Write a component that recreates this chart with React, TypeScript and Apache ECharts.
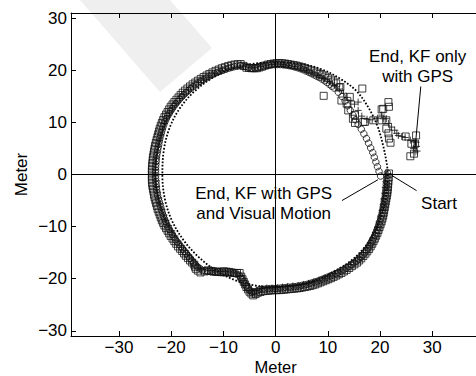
import React, { useEffect, useRef } from "react";
import * as echarts from "echarts";

const xTicks = [-30, -20, -10, 0, 10, 20, 30];
const yTicks = [-30, -20, -10, 0, 10, 20, 30];
const xRange = [-39.2, 39.2];
const yRange = [-31, 31];

// dotted reference trajectory
const referencePath = [
  [21.5, 0], [21.2, -4], [20.4, -7.5], [19, -11], [17, -14], [14.5, -16.5], [11, -18.7], [7.5, -20.3],
  [3.5, -21.3], [0, -21.6], [-4, -21.3], [-8, -20.2], [-11.5, -18.4], [-14.8, -15.8], [-17.5, -12.8],
  [-19.8, -9], [-21.2, -4.8], [-21.7, 0], [-21.4, 4.8], [-20.3, 9], [-18.3, 12.8], [-15.5, 16],
  [-12, 18.6], [-8, 20.4], [-4, 21.3], [0, 21.5], [5, 21.2], [9, 20.1], [12.5, 18.3], [15.5, 16],
  [17.8, 12.8], [19.5, 9.3], [20.6, 5.5], [21.3, 2], [21.5, 0],
];

// KF with GPS and visual motion (circles)
const kfVisual = [
  [21.4, 0.3], [21.3, -0.8], [21.2, -1.9], [21.1, -3.0], [21.0, -4.1], [20.8, -5.2], [20.6, -6.3], [20.4, -7.4],
  [20.1, -8.5], [19.8, -9.6], [19.4, -10.7], [19.0, -11.7], [18.5, -12.7], [18.0, -13.7], [17.4, -14.6],
  [16.7, -15.5], [15.9, -16.3], [15.0, -17.0], [14.0, -17.7], [13.0, -18.3], [12.0, -18.8], [11.0, -19.3],
  [10.0, -19.7], [9.0, -20.1], [8.0, -20.5], [7.0, -20.8], [6.0, -21.1], [5.0, -21.3], [4.0, -21.5],
  [3.0, -21.6], [2.0, -21.7], [1.0, -21.8], [0, -21.9], [-1.0, -21.9], [-2.0, -22.0], [-3.0, -22.1],
  [-3.9, -22.5], [-4.6, -22.6], [-5.3, -21.9], [-5.9, -21.0], [-6.4, -20.1], [-7.0, -19.3], [-8.0, -19.0],
  [-9.0, -18.9], [-10.0, -18.9], [-11.0, -18.8], [-12.0, -18.7], [-13.0, -18.6], [-14.0, -18.4],
  [-14.9, -17.8], [-15.7, -17.0], [-16.4, -16.1], [-17.1, -15.2], [-17.8, -14.3], [-18.5, -13.4],
  [-19.2, -12.5], [-19.8, -11.5], [-20.4, -10.5], [-20.9, -9.5], [-21.3, -8.5], [-21.7, -7.4],
  [-22.0, -6.3], [-22.3, -5.2], [-22.6, -4.1], [-22.8, -3.0], [-22.9, -1.9], [-23.0, -0.8], [-23.0, 0.3],
  [-23.0, 1.4], [-22.9, 2.5], [-22.8, 3.6], [-22.6, 4.7], [-22.4, 5.8], [-22.2, 6.9], [-21.9, 8.0],
  [-21.6, 9.1], [-21.2, 10.2], [-20.7, 11.2], [-20.1, 12.2], [-19.5, 13.1], [-18.8, 14.0], [-18.0, 14.9],
  [-17.2, 15.7], [-16.3, 16.5], [-15.4, 17.2], [-14.4, 17.9], [-13.4, 18.5], [-12.3, 19.1], [-11.2, 19.6],
  [-10.1, 20.0], [-9.0, 20.4], [-7.9, 20.7], [-6.8, 20.9], [-5.7, 20.7], [-4.6, 20.4], [-3.5, 20.5],
  [-2.4, 20.8], [-1.3, 21.0], [-0.2, 21.1], [0.9, 21.1], [2.0, 21.0], [3.1, 20.8], [4.2, 20.5], [5.3, 20.1],
  [6.4, 19.6], [7.4, 19.1], [8.4, 18.6], [9.4, 18.0], [10.3, 17.3], [11.2, 16.6], [12.0, 15.8], [12.7, 15.0],
  [13.3, 14.1], [13.8, 13.2], [14.3, 12.3], [14.8, 11.4], [15.3, 10.5], [15.8, 9.6], [16.4, 8.7],
  [16.9, 7.8], [17.4, 6.9], [17.8, 6.0], [18.2, 5.1], [18.6, 4.2], [18.9, 3.3], [19.2, 2.4], [19.5, 1.5],
  [19.8, 0.6], [20.1, -0.3],
];
// further circles read along the dense part of the ring
const kfVisualRing = [
  [21.35, -0.25], [21.25, -1.35], [21.15, -2.45], [21.05, -3.55], [20.9, -4.65], [20.7, -5.75], [20.5, -6.85],
  [20.25, -7.95], [19.95, -9.05], [19.6, -10.15], [19.2, -11.2], [18.75, -12.2], [18.25, -13.2], [17.7, -14.15],
  [17.05, -15.05], [16.3, -15.9], [15.45, -16.65], [14.5, -17.35], [13.5, -18.0], [12.5, -18.55], [11.5, -19.05],
  [10.5, -19.5], [9.5, -19.9], [8.5, -20.3], [7.5, -20.65], [6.5, -20.95], [5.5, -21.2], [4.5, -21.4],
  [3.5, -21.55], [2.5, -21.65], [1.5, -21.75], [0.5, -21.85], [-0.5, -21.9], [-1.5, -21.95], [-2.5, -22.05],
  [-3.45, -22.3], [-4.25, -22.55], [-4.95, -22.25], [-5.6, -21.45], [-6.15, -20.55], [-6.7, -19.7], [-7.5, -19.15],
  [-8.5, -18.95], [-9.5, -18.9], [-10.5, -18.85], [-11.5, -18.75], [-12.5, -18.65], [-13.5, -18.5],
  [-14.45, -18.1], [-15.3, -17.4], [-16.05, -16.55], [-16.75, -15.65], [-17.45, -14.75], [-18.15, -13.85],
  [-18.85, -12.95], [-19.5, -12.0], [-20.1, -11.0], [-20.65, -10.0], [-21.1, -9.0], [-21.5, -7.95],
  [-21.85, -6.85], [-22.15, -5.75], [-22.45, -4.65], [-22.7, -3.55], [-22.85, -2.45], [-22.95, -1.35],
  [-23.0, -0.25], [-23.0, 0.85], [-22.95, 1.95], [-22.85, 3.05], [-22.7, 4.15], [-22.5, 5.25], [-22.3, 6.35],
  [-22.05, 7.45], [-21.75, 8.55], [-21.4, 9.65], [-20.95, 10.7], [-20.4, 11.7], [-19.8, 12.65], [-19.15, 13.55],
  [-18.4, 14.45], [-17.6, 15.3], [-16.75, 16.1], [-15.85, 16.85], [-14.9, 17.55], [-13.9, 18.2], [-12.85, 18.8],
  [-11.75, 19.35], [-10.65, 19.8], [-9.55, 20.2], [-8.45, 20.55], [-7.35, 20.8], [-6.25, 20.8], [-5.15, 20.55],
  [-4.05, 20.45], [-2.95, 20.65], [-1.85, 20.9], [-0.75, 21.05], [0.35, 21.1], [1.45, 21.05], [2.55, 20.9],
  [3.65, 20.65], [4.75, 20.3], [5.85, 19.85], [6.9, 19.35], [7.9, 18.85], [8.9, 18.3], [9.85, 17.65], [10.75, 16.95],
];

// GPS (squares)
const gpsRaw = [
  [21.7, 0.2], [21.6, -1.3], [21.5, -2.4], [21.4, -3.5], [21.2, -4.6], [21.0, -5.7], [20.8, -6.8], [20.6, -7.9],
  [20.3, -9.0], [19.9, -10.1], [19.5, -11.2], [19.0, -12.3], [18.5, -13.3], [17.9, -14.3], [17.2, -15.2],
  [16.4, -16.1], [15.6, -16.9], [14.6, -17.6], [13.6, -18.3], [12.6, -18.9], [11.6, -19.4], [10.6, -19.9],
  [9.6, -20.3], [8.6, -20.7], [7.6, -21.1], [6.6, -21.4], [5.6, -21.6], [4.6, -21.8], [3.6, -21.9],
  [2.6, -22.0], [1.6, -22.1], [0.6, -22.2], [-0.4, -22.2], [-1.4, -22.3], [-2.4, -22.4], [-3.4, -22.7],
  [-4.3, -23.2], [-5.0, -22.5], [-5.6, -21.6], [-6.1, -20.6], [-6.6, -19.6], [-6.9, -18.9], [-7.9, -18.9],
  [-8.9, -18.7], [-9.9, -18.6], [-10.9, -18.7], [-11.9, -18.6], [-12.9, -18.4], [-14.4, -18.8],
  [-15.3, -18.1], [-15.6, -17.3], [-16.4, -16.5], [-17.2, -15.6], [-17.9, -14.7], [-18.7, -13.8],
  [-19.4, -12.8], [-20.1, -11.8], [-20.7, -10.8], [-21.3, -9.8], [-21.8, -8.8], [-22.2, -7.7],
  [-22.6, -6.6], [-22.9, -5.5], [-23.2, -4.4], [-23.4, -3.3], [-23.6, -2.2], [-23.7, -1.1], [-23.7, 0],
  [-23.7, 1.1], [-23.6, 2.2], [-23.5, 3.3], [-23.3, 4.4], [-23.1, 5.5], [-22.8, 6.6], [-22.5, 7.7],
  [-22.2, 8.8], [-21.8, 9.9], [-21.3, 11.0], [-20.7, 12.0], [-20.1, 13.0], [-19.4, 13.9], [-18.6, 14.8],
  [-17.8, 15.7], [-16.9, 16.5], [-15.9, 17.3], [-14.9, 18.0], [-13.8, 18.7], [-12.7, 19.3], [-11.5, 19.9],
  [-10.3, 20.4], [-9.1, 20.8], [-7.9, 21.1], [-6.7, 21.2], [-5.6, 20.5], [-4.6, 20.4], [-3.6, 20.4],
  [-2.6, 20.7], [-1.5, 21.1], [-0.4, 21.3], [0.7, 21.4], [1.8, 21.3], [2.9, 21.1], [4.0, 20.9], [5.1, 20.6],
  [6.2, 20.2], [7.3, 19.8], [8.4, 19.3], [9.5, 18.8], [10.6, 18.2], [11.6, 17.5], [12.4, 16.8], [12.2, 16.7],
  [16.6, 16.5], [9.2, 15.1], [12.6, 14.2], [14.2, 14.9], [13.9, 12.3], [13.6, 13.6], [14.8, 10.7],
  [15.2, 11.4], [15.2, 9.9], [16.8, 10.1], [17.1, 10.1], [18.7, 10.4], [20.3, 12.5], [20.6, 12.6],
  [21.6, 13.9], [21.7, 13.0], [20.3, 10.4], [21.2, 10.4], [21.2, 8.8], [21.6, 7.9], [21.7, 6.9], [22.0, 6.1],
  [24.9, 7.3], [26.9, 7.5], [26.7, 5.9], [26.0, 5.9], [26.5, 4.0], [25.8, 3.5],
];
// further squares read along the dense part of the ring
const gpsRing = [
  [21.65, -0.55], [21.55, -1.85], [21.45, -2.95], [21.3, -4.05], [21.1, -5.15], [20.9, -6.25], [20.7, -7.35],
  [20.45, -8.45], [20.1, -9.55], [19.7, -10.65], [19.25, -11.75], [18.75, -12.8], [18.2, -13.8], [17.55, -14.75],
  [16.8, -15.65], [16.0, -16.5], [15.1, -17.25], [14.1, -17.95], [13.1, -18.6], [12.1, -19.15], [11.1, -19.65],
  [10.1, -20.1], [9.1, -20.5], [8.1, -20.9], [7.1, -21.25], [6.1, -21.5], [5.1, -21.7], [4.1, -21.85],
  [3.1, -21.95], [2.1, -22.05], [1.1, -22.15], [0.1, -22.2], [-0.9, -22.25], [-1.9, -22.35], [-2.9, -22.55],
  [-3.85, -22.95], [-4.65, -22.85], [-5.3, -22.05], [-5.85, -21.1], [-6.35, -20.1], [-7.4, -18.9], [-8.4, -18.8],
  [-9.4, -18.65], [-10.4, -18.65], [-11.4, -18.65], [-12.4, -18.5], [-13.6, -18.6], [-14.9, -18.45],
  [-15.45, -17.7], [-16.0, -16.9], [-16.8, -16.05], [-17.55, -15.15], [-18.3, -14.25], [-19.05, -13.3],
  [-19.75, -12.3], [-20.4, -11.3], [-21.0, -10.3], [-21.55, -9.3], [-22.0, -8.25], [-22.4, -7.15],
  [-22.75, -6.05], [-23.05, -4.95], [-23.3, -3.85], [-23.5, -2.75], [-23.65, -1.65], [-23.7, -0.55],
  [-23.7, 0.55], [-23.65, 1.65], [-23.55, 2.75], [-23.4, 3.85], [-23.2, 4.95], [-22.95, 6.05], [-22.65, 7.15],
  [-22.35, 8.25], [-22.0, 9.35], [-21.55, 10.45], [-21.0, 11.5], [-20.4, 12.5], [-19.75, 13.45], [-19.0, 14.35],
  [-18.2, 15.25], [-17.35, 16.1], [-16.4, 16.9], [-15.4, 17.65], [-14.35, 18.35], [-13.25, 19.0], [-12.1, 19.6],
  [-10.9, 20.15], [-9.7, 20.6], [-8.5, 20.95], [-7.3, 21.15], [-6.15, 20.85], [-5.1, 20.45], [-4.1, 20.4],
  [-3.1, 20.55], [-2.05, 20.9], [-0.95, 21.2], [0.15, 21.35], [1.25, 21.35], [2.35, 21.2], [3.45, 21.0],
  [4.55, 20.75], [5.65, 20.4], [6.75, 20.0], [7.85, 19.55], [8.95, 19.05], [10.05, 18.5], [11.1, 17.85],
];

// KF only with GPS (pluses)
const kfGpsOnly = [
  [21.2, 0], [21.1, -1.4], [21.0, -2.5], [20.9, -3.6], [20.7, -4.7], [20.6, -5.8], [20.4, -6.9], [20.1, -8.0],
  [19.8, -9.1], [19.5, -10.2], [19.1, -11.2], [18.6, -12.2], [18.1, -13.2], [17.5, -14.1], [16.8, -15.0],
  [16.1, -15.9], [15.2, -16.6], [14.3, -17.3], [13.3, -17.9], [12.3, -18.5], [11.3, -19.0], [10.3, -19.5],
  [9.3, -19.9], [8.3, -20.3], [7.3, -20.6], [6.3, -20.9], [5.3, -21.1], [4.3, -21.3], [3.3, -21.4],
  [2.3, -21.5], [1.3, -21.6], [0.3, -21.7], [-0.7, -21.8], [-1.7, -21.8], [-2.7, -21.9], [-3.6, -22.2],
  [-4.4, -22.9], [-5.1, -22.2], [-5.7, -21.3], [-6.2, -20.3], [-6.8, -19.4], [-7.6, -18.9], [-8.6, -18.7],
  [-9.6, -18.6], [-10.6, -18.6], [-11.6, -18.5], [-12.6, -18.4], [-13.6, -18.3], [-14.4, -18.0],
  [-15.2, -17.3], [-15.9, -16.4], [-16.6, -15.5], [-17.3, -14.6], [-18.0, -13.7], [-18.7, -12.8],
  [-19.3, -11.8], [-19.9, -10.8], [-20.5, -9.8], [-21.0, -8.8], [-21.4, -7.8], [-21.8, -6.7], [-22.1, -5.6],
  [-22.4, -4.5], [-22.6, -3.4], [-22.8, -2.3], [-22.9, -1.2], [-23.0, -0.1], [-23.0, 1.0], [-23.0, 2.1],
  [-22.9, 3.2], [-22.7, 4.3], [-22.5, 5.4], [-22.3, 6.5], [-22.0, 7.6], [-21.7, 8.7], [-21.3, 9.8],
  [-20.9, 10.8], [-20.4, 11.8], [-19.8, 12.8], [-19.1, 13.7], [-18.4, 14.6], [-17.6, 15.4], [-16.7, 16.2],
  [-15.8, 17.0], [-14.8, 17.7], [-13.8, 18.3], [-12.8, 18.9], [-11.7, 19.4], [-10.6, 19.9], [-9.5, 20.3],
  [-8.4, 20.6], [-7.3, 20.8], [-6.2, 20.8], [-5.1, 20.6], [-4.0, 20.5], [-2.9, 20.7], [-1.8, 21.0],
  [-0.7, 21.1], [0.4, 21.2], [1.5, 21.1], [2.6, 20.9], [3.7, 20.7], [4.8, 20.4], [5.9, 20.0], [7.0, 19.5],
  [8.1, 19.0], [9.2, 18.4], [10.3, 17.8], [11.3, 17.1], [12.2, 16.4], [13.0, 15.6], [13.7, 14.8],
  [14.4, 14.1], [15.1, 13.5], [15.8, 13.9], [15.8, 12.3], [16.5, 11.2], [17.5, 10.6], [18.5, 10.5],
  [19.5, 10.8], [20.3, 11.4], [20.6, 10.7], [21.2, 10.7], [21.6, 9.8], [22.2, 9.1], [22.8, 8.5], [23.2, 7.9],
  [23.5, 7.5], [24.2, 7.3], [24.8, 7.1], [25.8, 6.6], [26.5, 6.3], [26.9, 6.2], [27.0, 5.4], [27.1, 4.5],
  [26.4, 5.0], [26.7, 4.3],
];

const annotationTexts = [
  { text: "End, KF only\nwith GPS", at: [27.2, 20.7] },
  { text: "End, KF with GPS\nand Visual Motion", at: [-2.3, -5.5] },
  { text: "Start", at: [31.3, -5.6] },
];
const annotationArrows = [
  [[27.8, 16.9], [26.7, 5.0]],
  [[12.7, -5.0], [19.6, -1.0]],
  [[27.0, -3.1], [22.2, -0.15]],
];

const FONT = "'Liberation Sans', Arial, Helvetica, sans-serif";
const fmt = (v: number) => (v < 0 ? "\u2212" + Math.abs(v) : String(v));

export default function App() {
  const ref = useRef<HTMLDivElement>(null);
  useEffect(() => {
    if (!ref.current) return;
    const chart = echarts.init(ref.current, undefined, { renderer: "svg" });
    const markerStroke = { color: "rgba(0,0,0,0)", borderColor: "#111", borderWidth: 1 };
    const axisCommon = {
      axisLine: { show: true, onZero: false, lineStyle: { color: "#000", width: 1 } },
      splitLine: { show: false },
    };
    const option: any = {
      animation: false,
      backgroundColor: "#fff",
      textStyle: { fontFamily: FONT },
      grid: {
        left: 71, top: 13, width: 409.3, height: 323, containLabel: false, show: false,
        outerBoundsMode: "none",
      },
      xAxis: [
        {
          ...axisCommon,
          type: "value", min: xRange[0], max: xRange[1], position: "bottom",
          name: "Meter", nameLocation: "middle", nameGap: 23, nameMoveOverlap: false,
          nameTextStyle: { fontSize: 16.5, color: "#000", fontFamily: FONT, lineHeight: 16 },
          axisTick: { show: true, inside: true, length: 5, customValues: xTicks, lineStyle: { color: "#000" } },
          axisLabel: { show: true, customValues: xTicks, formatter: fmt, fontSize: 17, color: "#000", margin: 3, fontFamily: FONT, lineHeight: 17 },
        },
        {
          ...axisCommon,
          type: "value", min: xRange[0], max: xRange[1], position: "top",
          axisTick: { show: true, inside: true, length: 5, customValues: xTicks, lineStyle: { color: "#000" } },
          axisLabel: { show: false },
        },
      ],
      yAxis: [
        {
          ...axisCommon,
          type: "value", min: yRange[0], max: yRange[1], position: "left",
          name: "Meter", nameLocation: "middle", nameGap: 41, nameRotate: 90, nameMoveOverlap: false,
          nameTextStyle: { fontSize: 17, color: "#000", fontFamily: FONT },
          axisTick: { show: true, inside: true, length: 5, customValues: yTicks, lineStyle: { color: "#000" } },
          axisLabel: { show: true, customValues: yTicks, formatter: fmt, fontSize: 17, color: "#000", margin: 4, fontFamily: FONT },
        },
      ],
      series: [
        {
          type: "line", name: "reference", data: referencePath, smooth: 0.35, showSymbol: false, silent: true,
          lineStyle: { color: "#000", width: 1.8, type: [1.7, 1.7] }, z: 3,
          markLine: {
            silent: true, symbol: "none", label: { show: false },
            lineStyle: { color: "#000", type: "solid", width: 1 },
            data: [{ xAxis: 0 }, { yAxis: 0 }],
          },
        },
        {
          type: "scatter", name: "GPS", data: gpsRaw.concat(gpsRing), symbol: "rect", symbolSize: 7, silent: true,
          itemStyle: markerStroke, z: 4,
        },
        {
          type: "scatter", name: "KF GPS only", data: kfGpsOnly, symbol: "path://M5,0L5,10M0,5L10,5",
          symbolSize: 7, silent: true, itemStyle: { color: "none", borderColor: "#111", borderWidth: 1 }, z: 4,
        },
        {
          type: "scatter", name: "KF GPS + visual", data: kfVisual.concat(kfVisualRing), symbol: "circle",
          symbolSize: 6.5, silent: true, itemStyle: markerStroke, z: 4,
          markLine: {
            silent: true, symbol: ["none", "arrow"], symbolSize: [0, 8], label: { show: false },
            lineStyle: { color: "#000", type: "solid", width: 1 },
            data: annotationArrows.map((a) => [{ coord: a[0] }, { coord: a[1] }]),
          },
        },
      ],
    };
    chart.setOption(option);
    const graphics: any[] = [
      {
        type: "polygon", z: -10, silent: true,
        shape: { points: [[80, 0], [170, 0], [212, 48], [160, 92]] },
        style: { fill: "#efefef" },
      },
    ];
    annotationTexts.forEach((t) => {
      const p = chart.convertToPixel({ gridIndex: 0 }, t.at) as number[];
      graphics.push({
        type: "text", x: p[0], y: p[1], z: 10, silent: true,
        style: {
          text: t.text, fontSize: 17, fontFamily: FONT, fill: "#000",
          align: "center", verticalAlign: "middle", lineHeight: 20,
        },
      });
    });
    chart.setOption({ graphic: graphics });
    return () => chart.dispose();
  }, []);
  return (
    <div
      ref={ref}
      style={{ position: "fixed", left: 0, top: 0, width: 476, height: 376, background: "#fff" }}
    />
  );
}
